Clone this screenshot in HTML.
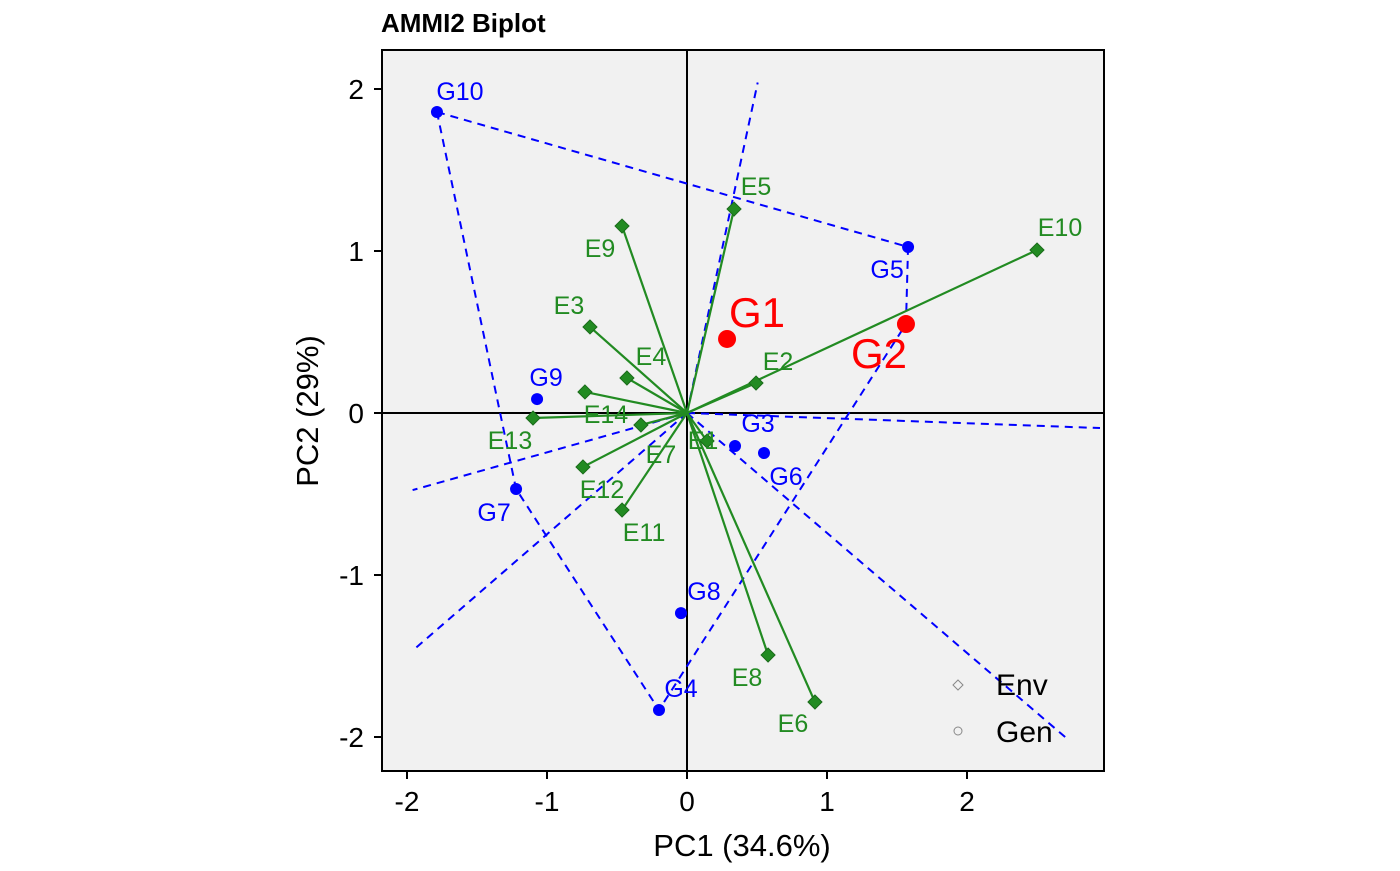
<!DOCTYPE html>
<html><head><meta charset="utf-8"><style>
body{margin:0;background:#fff;}
svg text{font-family:"Liberation Sans",Arial,sans-serif;}
</style></head><body>
<svg id="chart" width="1400" height="866" xmlns="http://www.w3.org/2000/svg">
<text x="381" y="32" font-size="26" font-weight="bold">AMMI2 Biplot</text>
<rect x="382" y="50" width="722" height="721" fill="#f1f1f1" stroke="none"/>
<g id="marks"></g>
<rect x="382" y="50" width="722" height="721" fill="none" stroke="#000" stroke-width="2"/>
<text x="742" y="856" font-size="31" text-anchor="middle">PC1 (34.6%)</text>
<text transform="translate(318,411) rotate(-90)" font-size="31" text-anchor="middle">PC2 (29%)</text>
<g>
<path d="M958 680 L963 685 L958 690 L953 685 Z" fill="none" stroke="#888" stroke-width="1"/>
<text x="996" y="695" font-size="30">Env</text>
<circle cx="958" cy="731" r="4" fill="none" stroke="#888"/>
<text x="996" y="742" font-size="30">Gen</text>
</g>
</svg>
<script>
const genNames=["G1","G2","G3","G4","G5","G6","G7","G8","G9","G10"];
const genPC1=[0.286,1.564,0.343,-0.2,1.579,0.55,-1.221,-0.043,-1.071,-1.786];
const genPC2=[0.457,0.549,-0.204,-1.833,1.025,-0.247,-0.469,-1.235,0.086,1.858];
const envNames=["E1","E2","E3","E4","E5","E6","E7","E8","E9","E10","E11","E12","E13","E14"];
const envPC1=[0.143,0.493,-0.693,-0.429,0.336,0.914,-0.329,0.579,-0.464,2.5,-0.464,-0.743,-1.1,-0.729];
const envPC2=[-0.173,0.185,0.531,0.216,1.259,-1.784,-0.074,-1.494,1.154,1.006,-0.599,-0.333,-0.031,0.13];
const hullOrder=["G10","G5","G2","G4","G7"];
const highlight=["G1","G2"];
const xTicks=[-2,-1,0,1,2];
const yTicks=[-2,-1,0,1,2];
const rayBounds={xmin:-1.96,xmax:2.95,ymin:-2.02,ymax:2.04};

const NS="http://www.w3.org/2000/svg";
const X=v=>687+140*v, Y=v=>413-162*v;
const svg=document.getElementById('chart'), g=document.getElementById('marks');
function mk(t,a,p){const e=document.createElementNS(NS,t);for(const k in a)e.setAttribute(k,a[k]);(p||g).appendChild(e);return e;}

xTicks.forEach(v=>{
 const l=mk('line',{x1:X(v),x2:X(v),y1:771,y2:779,stroke:'#000','stroke-width':2},svg);
 
 
 const t=mk('text',{x:X(v),y:811,'font-size':28,'text-anchor':'middle'},svg);t.textContent=v;
 
 
});
yTicks.forEach(v=>{
 const l=mk('line',{x1:374,x2:382,y1:Y(v),y2:Y(v),stroke:'#000','stroke-width':2},svg);
 
 
 const t=mk('text',{x:364,y:Y(v)+10,'font-size':28,'text-anchor':'end'},svg);t.textContent=v;
 
 
});
let z=mk('line',{x1:382,x2:1104,y1:Y(0),y2:Y(0),stroke:'#000','stroke-width':2});


z=mk('line',{x1:X(0),x2:X(0),y1:50,y2:771,stroke:'#000','stroke-width':2});



const hp=hullOrder.map(n=>{const i=genNames.indexOf(n);return [genPC1[i],genPC2[i]];});
const poly=mk('polygon',{points:hp.map(p=>X(p[0])+','+Y(p[1])).join(' '),fill:'none',stroke:'#0000ff','stroke-width':2,'stroke-dasharray':'8,6'});


for(let i=0;i<hp.length;i++){
 const a=hp[i],b=hp[(i+1)%hp.length];
 const dx=b[0]-a[0],dy=b[1]-a[1];
 const t=-(a[0]*dx+a[1]*dy)/(dx*dx+dy*dy);
 let fx=a[0]+t*dx,fy=a[1]+t*dy;
 let s=Infinity;
 if(fx>0)s=Math.min(s,rayBounds.xmax/fx); if(fx<0)s=Math.min(s,rayBounds.xmin/fx);
 if(fy>0)s=Math.min(s,rayBounds.ymax/fy); if(fy<0)s=Math.min(s,rayBounds.ymin/fy);
 const r=mk('line',{x1:X(0),y1:Y(0),x2:X(fx*s),y2:Y(fy*s),stroke:'#0000ff','stroke-width':2,'stroke-dasharray':'8,6'});
 
 
}
const envOff={E1:[-4,0],E2:[22,-21],E3:[-21,-21],E4:[24,-21],E5:[22,-22],E6:[-22,22],E7:[20,30],E8:[-21,23],E9:[-22,23],E10:[23,-22],E11:[22,23],E12:[19,23],E13:[-23,23],E14:[21,23]};
envNames.forEach((n,i)=>{
 const x=X(envPC1[i]),y=Y(envPC2[i]);
 const l=mk('line',{x1:X(0),y1:Y(0),x2:x,y2:y,stroke:'#228b22','stroke-width':2.2});
 
 
});
envNames.forEach((n,i)=>{
 const x=X(envPC1[i]),y=Y(envPC2[i]);
 const d=mk('path',{d:`M${x} ${y-7} L${x+7} ${y} L${x} ${y+7} L${x-7} ${y} Z`,fill:'#228b22',stroke:'#1a6b1a','stroke-width':1});
 
 
 const o=envOff[n]||[0,-20];
 const t=mk('text',{x:x+o[0],y:y+o[1]+8,'font-size':25,fill:'#228b22','text-anchor':'middle'});t.textContent=n;
 
 
});
const genOff={G1:[30,-26],G2:[-27,30],G3:[23,-22],G4:[22,-21],G5:[-21,23],G6:[22,24],G7:[-22,24],G8:[23,-21],G9:[9,-21],G10:[23,-20]};
genNames.forEach((n,i)=>{
 const x=X(genPC1[i]),y=Y(genPC2[i]);
 const big=highlight.includes(n);
 const c=mk('circle',{cx:x,cy:y,r:big?9:6,fill:big?'#ff0000':'#0000ff'});
 
 
 const o=genOff[n];
 const t=mk('text',{x:x+o[0],y:y+o[1]+(big?14:8),'font-size':big?42:25,fill:big?'#ff0000':'#0000ff','text-anchor':'middle'});t.textContent=n;
 
 
});
</script>
</body></html>
